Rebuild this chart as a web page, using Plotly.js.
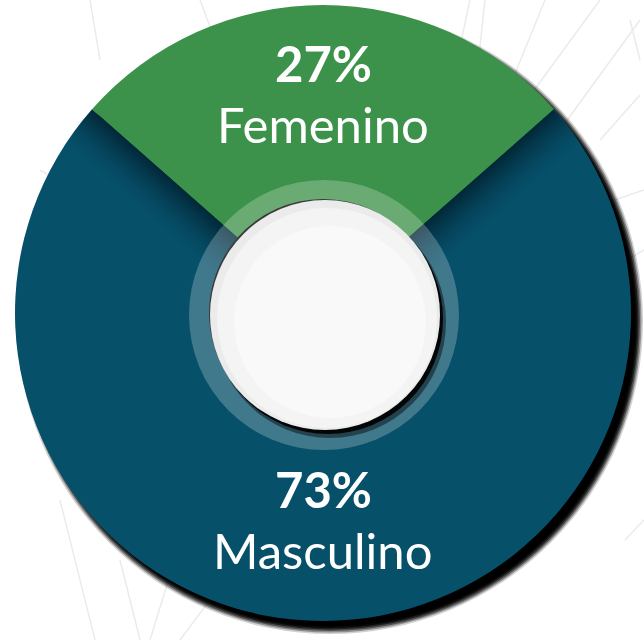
<!DOCTYPE html>
<html>
<head>
<meta charset="utf-8">
<script src="https://cdn.plot.ly/plotly-3.0.1.min.js"></script>
<style>html,body{margin:0;padding:0;background:#fff;}#chart{width:644px;height:640px;}</style>
</head>
<body>
<div id="chart"></div>
<script>
const labels = ["Femenino", "Masculino"];
const values = [27, 73];
const colors = ["#3c924a", "#07506a"];

const W = 644, H = 640;
const cx = 323, cy = 313, R = 308, HOLE = 114;
const px = v => v / W;
const py = v => 1 - v / H;
function circ(x, y, r, fill, layer) {
  return {type: "circle", xref: "paper", yref: "paper",
    x0: px(x - r), x1: px(x + r), y0: py(y + r), y1: py(y - r),
    fillcolor: fill, line: {width: 0}, layer: layer || "above"};
}
function poly(pts, fill, layer) {
  const d = pts.map((p, i) => (i ? "L" : "M") + px(p[0]).toFixed(5) + "," + py(p[1]).toFixed(5)).join(" ") + " Z";
  return {type: "path", xref: "paper", yref: "paper", path: d, fillcolor: fill, line: {width: 0}, layer: layer || "above"};
}
function seg(x0, y0, x1, y1) {
  return {type: "line", xref: "paper", yref: "paper", x0: px(x0), y0: py(y0), x1: px(x1), y1: py(y1),
    line: {color: "#ebebeb", width: 1.5}, layer: "below"};
}

const shapes = [];
// faint decorative background lines
[[470,0,440,140],[485,0,470,140],[545,0,490,135],[600,0,505,130],[640,20,560,130],[640,95,600,140],[644,190,600,205],
 [644,250,610,270],[200,0,215,40],[90,0,100,60],[40,170,75,190],[630,20,640,60],
 [60,500,95,640],[120,560,140,640],[170,575,150,640],[210,600,180,640],[644,520,625,540]].forEach(s => shapes.push(seg(s[0],s[1],s[2],s[3])));

// soft outer shadow (bottom-right)
for (let i = 0; i < 6; i++) {
  shapes.push(circ(cx + 7, cy + 8, R + 5 - i * 1.5, "rgba(0,0,0," + (0.18 + i * 0.14) + ")", "below"));
}

// dark shading on the teal side of each boundary
const half = values[0] * 3.6 / 2 * Math.PI / 180;
[-1, 1].forEach(side => {
  const ang = side * half;
  const u = [Math.sin(ang), -Math.cos(ang)];
  const n = [side * Math.cos(ang), side * Math.sin(ang)];
  const steps = 14, step = 3;
  for (let k = 0; k < steps; k++) {
    const d1 = k * step, d2 = (k + 1) * step;
    const t0 = 90;
    const t1a = Math.sqrt(R * R - d1 * d1) - 0.5, t1b = Math.sqrt(R * R - d2 * d2) - 0.5;
    const P = (d, t) => [cx + d * n[0] + t * u[0], cy + d * n[1] + t * u[1]];
    const a = 0.6 * Math.pow(1 - k / steps, 1.6);
    shapes.push(poly([P(d1, t0), P(d1, t1a), P(d2, t1b), P(d2, t0)], "rgba(0,15,25," + a.toFixed(3) + ")"));
  }
});

// translucent ring around hole
shapes.push(circ(cx + 1, cy + 2, 135, "rgba(255,255,255,0.23)"));
// shadow of the white disc
shapes.push(circ(cx + 7, cy + 9, 116, "rgba(0,0,0,0.45)"));
shapes.push(circ(cx + 5, cy + 6, 115, "rgba(0,0,0,0.9)"));
// white disc
shapes.push(circ(cx + 2, cy + 2, 115, "#ebebeb"));
shapes.push(circ(cx + 4, cy + 5, 110, "rgba(255,255,255,0.45)"));
shapes.push(circ(cx + 7, cy + 9, 96, "rgba(255,255,255,0.45)"));

// labels placed at each slice's mid-angle, derived from the values
const total = values.reduce((a, b) => a + b, 0);
const annotations = [];
let start = -values[0] / 2;
const font = "Lato, 'Open Sans', sans-serif";
values.forEach((v, i) => {
  const mid = (start + v / 2) / total * 2 * Math.PI;
  start += v;
  const tx = cx + 213 * Math.sin(mid), ty = cy - 9 - 213 * Math.cos(mid);
  annotations.push({xref: "paper", yref: "paper", x: px(tx), y: py(ty + 2), xanchor: "center", yanchor: "bottom",
    borderpad: 0, text: "<b>" + v + "%</b>", showarrow: false, font: {family: font, size: 49, color: "#ffffff"}});
  annotations.push({xref: "paper", yref: "paper", x: px(tx), y: py(ty + 3), xanchor: "center", yanchor: "top",
    borderpad: 0, text: labels[i], showarrow: false, font: {family: font, size: 49, color: "#ffffff"}});
});

const trace = {
  type: "pie",
  labels: labels,
  values: values,
  marker: {colors: colors, line: {width: 0}},
  sort: false,
  direction: "clockwise",
  rotation: -values[0] * 3.6 / 2,
  hole: HOLE / R,
  domain: {x: [px(cx - R), px(cx + R)], y: [py(cy + R), py(cy - R)]},
  textinfo: "none",
  hoverinfo: "none",
  showlegend: false
};

Plotly.newPlot("chart", [trace], {
  width: W, height: H,
  margin: {l: 0, r: 0, t: 0, b: 0},
  paper_bgcolor: "#ffffff",
  shapes: shapes,
  annotations: annotations,
  showlegend: false
}, {displayModeBar: false, staticPlot: true});
</script>
</body>
</html>
